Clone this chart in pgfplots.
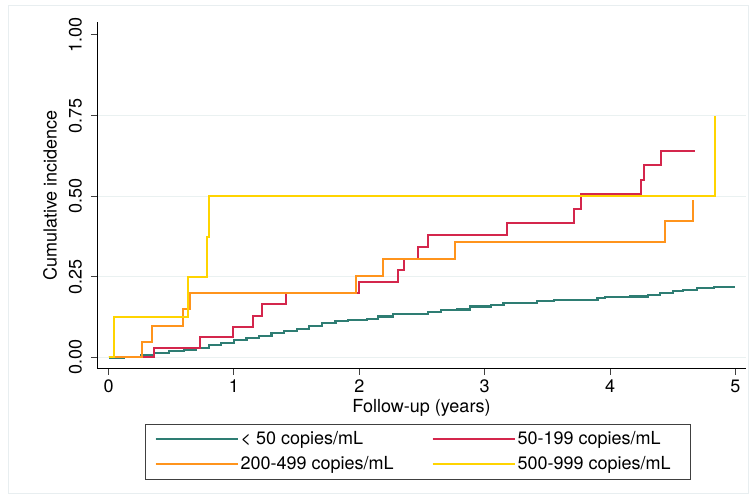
\documentclass[border=0pt]{standalone}
\usepackage{pgfplots}
\pgfplotsset{compat=1.18}
\usepackage{fontspec}
\setmainfont{TeX Gyre Heros}
\definecolor{cteal}{RGB}{46,125,115}
\definecolor{cred}{RGB}{212,38,76}
\definecolor{corange}{RGB}{255,148,28}
\definecolor{cyellow}{RGB}{255,212,0}
\definecolor{cgrid}{RGB}{234,241,241}
\definecolor{cframe}{RGB}{232,238,240}
\pgfplotstableread{
x y
0 0
0.12 0.002
0.26 0.008
0.36 0.013
0.48 0.019
0.60 0.024
0.70 0.029
0.80 0.039
0.90 0.044
1.00 0.053
1.10 0.060
1.20 0.067
1.30 0.075
1.40 0.081
1.50 0.088
1.60 0.098
1.70 0.106
1.81 0.112
1.91 0.115
2.06 0.119
2.15 0.127
2.27 0.134
2.41 0.136
2.55 0.140
2.65 0.146
2.78 0.149
2.88 0.158
3.05 0.162
3.15 0.168
3.25 0.170
3.42 0.174
3.55 0.177
3.75 0.179
3.90 0.184
3.96 0.187
4.16 0.189
4.30 0.194
4.40 0.200
4.50 0.205
4.58 0.210
4.69 0.216
4.83 0.218
5.00 0.218
}\teal
\pgfplotstableread{
x y
0 0
0.363 0.030
0.728 0.064
0.99 0.096
1.15 0.130
1.222 0.165
1.415 0.199
2.00 0.234
2.31 0.270
2.36 0.305
2.47 0.343
2.55 0.380
3.18 0.416
3.71 0.461
3.77 0.506
4.25 0.551
4.268 0.596
4.405 0.641
4.675 0.641
}\red
\pgfplotstableread{
x y
0 0
0.267 0.049
0.35 0.099
0.595 0.149
0.65 0.199
1.97 0.253
2.19 0.306
2.76 0.359
4.435 0.423
4.665 0.488
}\orange
\pgfplotstableread{
x y
0 0
0.045 0.125
0.63 0.25
0.785 0.375
0.805 0.50
4.835 0.75
}\yellow
\begin{document}
\fontsize{18bp}{22bp}\selectfont
\begin{tikzpicture}
\path[use as bounding box] (0,0) rectangle (756bp,500bp);
\draw[cframe, line width=1bp] (8bp,6bp) rectangle (748bp,494bp);
\begin{axis}[
  at={(97bp,131bp)}, anchor=south west,
  scale only axis, width=649bp, height=347bp,
  xmin=-0.092, xmax=5.084, ymin=-0.0357, ymax=1.040,
  axis x line*=bottom, axis y line*=left,
  axis line style={black, line width=1bp},
  tick align=outside, major tick length=6bp,
  tick style={black!75, line width=1bp},
  xtick={0,1,2,3,4,5}, xticklabels={0,1,2,3,4,5},
  ytick={0,0.25,0.5,0.75}, yticklabels={0.00,0.25,0.50,0.75},
  extra y ticks={1}, extra y tick labels={1.00},
  extra y tick style={grid=none},
  ymajorgrids, grid style={cgrid, line width=1.3bp},
  /pgf/number format/assume math mode=true,
  ticklabel style={font=\fontsize{18bp}{22bp}\selectfont},
  yticklabel style={rotate=90, anchor=south, inner sep=0pt},
  yticklabel shift=9bp,
  xticklabel style={anchor=north, inner sep=0pt, yshift=-5bp},
  xlabel={Follow-up (years)},
  ylabel={Cumulative incidence},
  xlabel style={at={(axis description cs:0.5,-0.126)}, anchor=base, inner sep=0pt},
  ylabel style={at={(axis description cs:-0.0621,0.5)}, anchor=base, rotate=0, inner sep=0pt},
  legend columns=2,
  legend style={at={(axis description cs:0.074,-0.1585)}, anchor=north west,
    draw=black!75, line width=0.8bp, font=\fontsize{18bp}{22bp}\selectfont,
    inner xsep=9bp, inner ysep=5bp, row sep=5bp,
    /tikz/every even column/.append style={column sep=36bp}},
  legend cell align=left,
  legend image code/.code={\draw[#1, line width=1.2bp] (0bp,0bp) -- (71bp,0bp); \path (0bp,0bp) -- (82bp,0bp);},
]
\addplot[const plot, cteal, line width=2.2bp] table {\teal};
\addlegendentry{< 50 copies/mL}
\addplot[const plot, cred, line width=2bp] table {\red};
\addlegendentry{50-199 copies/mL\hspace*{9bp}}
\addplot[const plot, corange, line width=2bp] table {\orange};
\addlegendentry{200-499 copies/mL}
\addplot[const plot, cyellow, line width=2bp] table {\yellow};
\addlegendentry{500-999 copies/mL\hspace*{9bp}}
\end{axis}
\end{tikzpicture}
\end{document}
